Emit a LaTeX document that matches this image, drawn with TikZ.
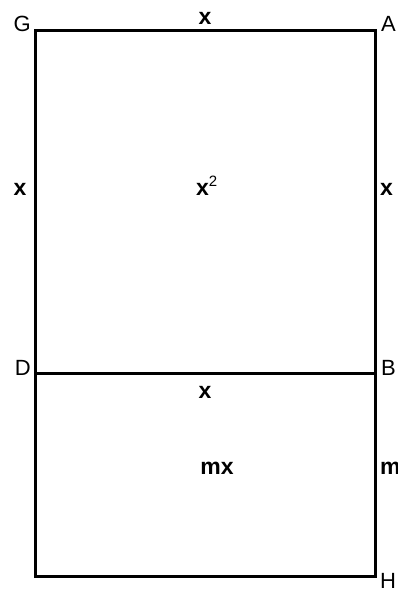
\documentclass[tikz,border=0pt]{standalone}
\usepackage{fontspec}
\setmainfont{Liberation Sans}
\begin{document}
\begin{tikzpicture}[x=1pt,y=-1pt,
  lbl/.style={inner sep=0pt,font=\fontsize{22}{22}\selectfont},
  blbl/.style={inner sep=0pt,font=\fontsize{23}{23}\selectfont\bfseries},
  edge/.style={line width=3pt,line join=miter}]
\useasboundingbox (0,0) rectangle (398,592);
\coordinate (G) at (35,30);
\coordinate (A) at (375,30);
\coordinate (D) at (35,373);
\coordinate (B) at (375,373);
\coordinate (H) at (375,576);
\coordinate (E) at (35,576);
\draw[edge] (G) -- (A) -- (H) -- (E) -- cycle;
\draw[edge] (D) -- (B);
\node[lbl,anchor=base east] (lG) at (31,31) {G};
\node[lbl,anchor=base west] (lA) at (381,31) {A};
\node[lbl,anchor=mid east] (lD) at (31,373) {D};
\node[lbl,anchor=mid west] (lB) at (381,373) {B};
\node[lbl,anchor=base west] (lH) at (380,588) {H};
\node[blbl,anchor=base] (xt) at (205,24) {x};
\node[blbl,anchor=base] (xl) at (20,195) {x};
\node[blbl,anchor=base west] (xr) at (380,195) {x};
\node[blbl,anchor=base] (xb) at (205,398) {x};
\node[blbl,anchor=base west] (x2) at (196,195) {x\raisebox{9pt}{\fontsize{15}{15}\selectfont\mdseries 2}};
\node[blbl,anchor=base] (mx) at (217,474) {mx};
\node[blbl,anchor=base west] (mr) at (380,474) {m};
\end{tikzpicture}
\end{document}
